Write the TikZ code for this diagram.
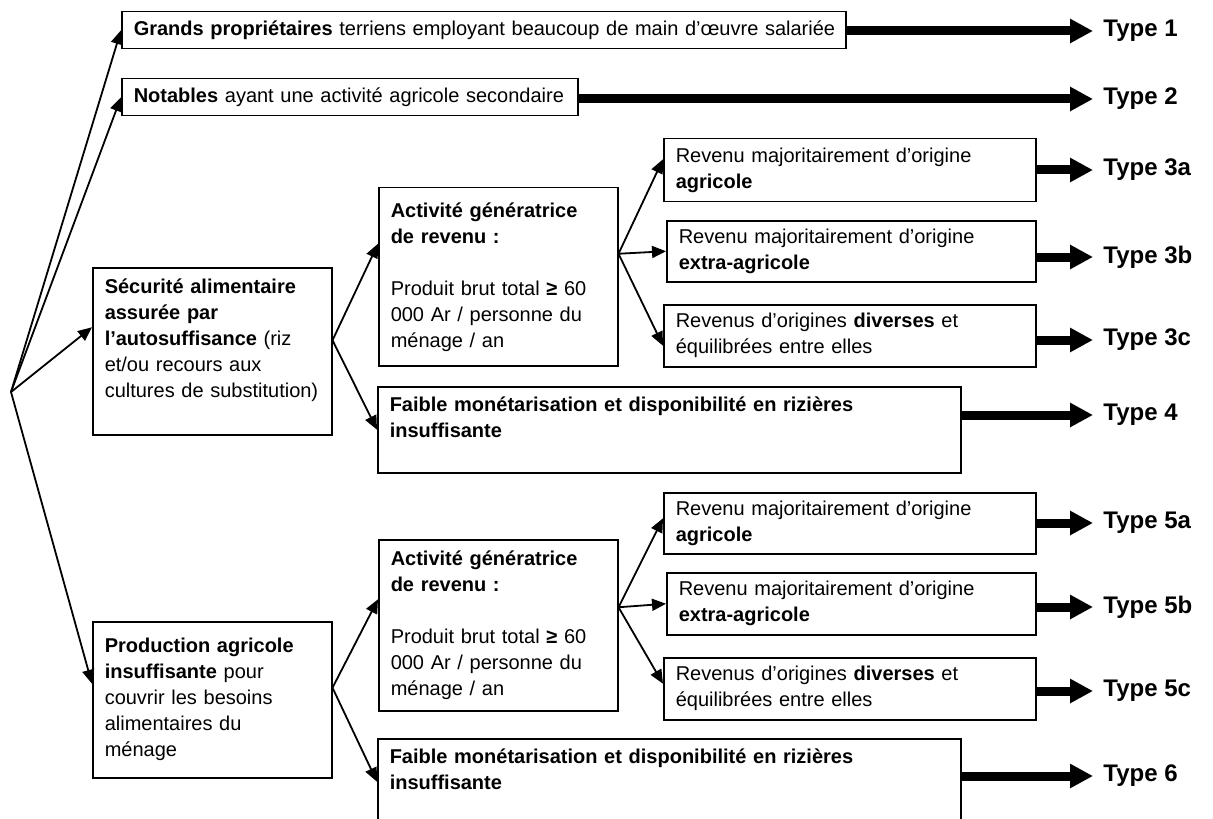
\documentclass[tikz,border=0pt]{standalone}
\usepackage{fontspec}
\setmainfont{Liberation Sans}
\usetikzlibrary{arrows.meta}

\begin{document}
\begin{tikzpicture}[x=0.5pt, y=-0.5pt,
  cell/.style={draw, line width=0.75pt, anchor=north west, align=left,
    inner xsep=6pt, inner ysep=0pt, font=\fontsize{10}{13}\selectfont},
  typelab/.style={anchor=west, inner xsep=5pt, font=\fontsize{12}{14}\selectfont\bfseries},
  link/.style={line width=0.9pt, -{Triangle[length=7pt, width=6pt]}},
  fat/.style={line width=4.5pt, -{Triangle[length=11.5pt, width=11.5pt]}}]
  \useasboundingbox (0,0) rectangle (1213,818);
  \coordinate (root) at (11,392);

  \node[cell, text width=350pt, minimum height=18.5pt] (grands) at (121,11)
    {\mbox{\textbf{Grands propriétaires} terriens employant beaucoup de main d’œuvre salariée}};
  \node[cell, text width=216pt, minimum height=18.5pt] (notables) at (121,78)
    {\mbox{\textbf{Notables} ayant une activité agricole secondaire}};

  \node[cell, text width=107.5pt, minimum height=83.5pt] (secu) at (92,267)
    {\textbf{Sécurité alimentaire}\\ \textbf{assurée par}\\ \textbf{l’autosuffisance} (riz\\
     et/ou recours aux\\ cultures de substitution)\\ \mbox{}};
  \node[cell, text width=107.5pt, minimum height=89pt] (activA) at (378,187)
    {\textbf{Activité génératrice}\\ \textbf{de revenu :}\\ \mbox{}\\
     Produit brut total \textbf{≥} 60\\ 000 Ar / personne du\\ ménage / an};
  \node[cell, text width=174pt, minimum height=31.5pt] (rev3a) at (663,138)
    {Revenu majoritairement d’origine\\ \textbf{agricole}};
  \node[cell, text width=172.5pt, minimum height=30.5pt] (rev3b) at (666,220)
    {Revenu majoritairement d’origine\\ \textbf{extra-agricole}};
  \node[cell, text width=174pt, minimum height=31pt] (rev3c) at (663,304)
    {Revenus d’origines \textbf{diverses} et\\ équilibrées entre elles};
  \node[cell, text width=279.5pt, minimum height=43pt] (faibleA) at (377,386)
    {\textbf{Faible monétarisation et disponibilité en rizières}\\ \textbf{insuffisante}\\ \mbox{}};

  \node[cell, text width=107.5pt, minimum height=78pt] (prod) at (92,621)
    {\textbf{Production agricole}\\ \textbf{insuffisante} pour\\ couvrir les besoins\\
     alimentaires du\\ ménage};
  \node[cell, text width=107.5pt, minimum height=85.5pt] (activB) at (378,539)
    {\textbf{Activité génératrice}\\ \textbf{de revenu :}\\ \mbox{}\\
     Produit brut total \textbf{≥} 60\\ 000 Ar / personne du\\ ménage / an};
  \node[cell, text width=174pt, minimum height=30.5pt] (rev5a) at (663,492)
    {Revenu majoritairement d’origine\\ \textbf{agricole}};
  \node[cell, text width=172.5pt, minimum height=31pt] (rev5b) at (666,572)
    {Revenu majoritairement d’origine\\ \textbf{extra-agricole}};
  \node[cell, text width=174pt, minimum height=31pt] (rev5c) at (663,657)
    {Revenus d’origines \textbf{diverses} et\\ équilibrées entre elles};
  \node[cell, text width=279.5pt, minimum height=43pt] (faibleB) at (377,738)
    {\textbf{Faible monétarisation et disponibilité en rizières}\\ \textbf{insuffisante}\\ \mbox{}};

  \node[typelab] (type1) at (1093,31) {Type 1};
  \node[typelab] (type2) at (1093,99) {Type 2};
  \node[typelab] (type3a) at (1093,170) {Type 3a};
  \node[typelab] (type3b) at (1093,257) {Type 3b};
  \node[typelab] (type3c) at (1093,340) {Type 3c};
  \node[typelab] (type4) at (1093,415) {Type 4};
  \node[typelab] (type5a) at (1093,523) {Type 5a};
  \node[typelab] (type5b) at (1093,607) {Type 5b};
  \node[typelab] (type5c) at (1093,691) {Type 5c};
  \node[typelab] (type6) at (1093,776) {Type 6};

  \coordinate (forkS) at ([yshift=5.5pt]secu.east);
  \coordinate (forkA) at ([yshift=11.5pt]activA.east);
  \coordinate (forkP) at ([yshift=6pt]prod.east);
  \coordinate (forkB) at ([yshift=9pt]activB.east);

  \draw[link] (root) -- (grands.west);
  \draw[link] (root) -- (notables.west);
  \draw[link] (root) -- ([yshift=12pt]secu.west);
  \draw[link] (root) -- ([yshift=8pt]prod.west);
  \draw[link] (forkS) -- ([yshift=16.5pt]activA.west);
  \draw[link] (forkS) -- (faibleA.west);
  \draw[link] (forkA) -- ([yshift=5.5pt]rev3a.west);
  \draw[link] (forkA) -- (rev3b.west);
  \draw[link] (forkA) -- ([yshift=-5pt]rev3c.west);
  \draw[link] (forkP) -- ([yshift=13pt]activB.west);
  \draw[link] (forkP) -- (faibleB.west);
  \draw[link] (forkB) -- ([yshift=2.5pt]rev5a.west);
  \draw[link] (forkB) -- (rev5b.west);
  \draw[link] (forkB) -- ([yshift=2.5pt]rev5c.west);

  \draw[fat] (grands.east |- type1) -- (type1);
  \draw[fat] (notables.east |- type2) -- (type2);
  \draw[fat] (rev3a.east |- type3a) -- (type3a);
  \draw[fat] (rev3b.east |- type3b) -- (type3b);
  \draw[fat] (rev3c.east |- type3c) -- (type3c);
  \draw[fat] (faibleA.east |- type4) -- (type4);
  \draw[fat] (rev5a.east |- type5a) -- (type5a);
  \draw[fat] (rev5b.east |- type5b) -- (type5b);
  \draw[fat] (rev5c.east |- type5c) -- (type5c);
  \draw[fat] (faibleB.east |- type6) -- (type6);
\end{tikzpicture}
\end{document}
